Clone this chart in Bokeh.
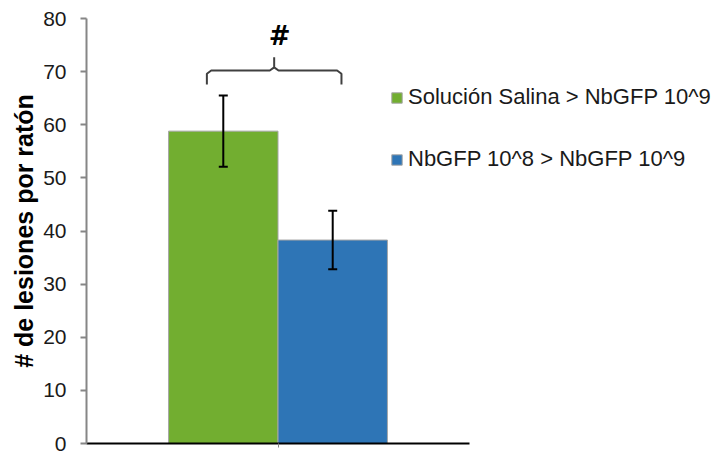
from bokeh.plotting import figure
from bokeh.models import (ColumnDataSource, Whisker, TeeHead, FixedTicker, Range1d,
                          Legend, LegendItem, Label)
from bokeh.embed import file_html
from bokeh.resources import INLINE

# ---- data ----
groups = ["Solución Salina > NbGFP 10^9", "NbGFP 10^8 > NbGFP 10^9"]
means = [58.8, 38.3]
errors = [6.7, 5.5]
positions = [1.25, 2.25]
colors = ["#72AE30", "#2E75B6"]
y_ticks = [0, 10, 20, 30, 40, 50, 60, 70, 80]
y_label = "# de lesiones por ratón"
sig_label = "#"
bracket_left = 1.10
bracket_right = 2.33
bracket_level = 70.2

FONT = "Liberation Sans"

# layout: x axis spans 0..3.5 (383 px); frame extended to the right for the legend
axis_end = 3.5
axis_px = 383
frame_w = 637
x_end = axis_end * frame_w / axis_px

p = figure(frame_width=frame_w, frame_height=425,
           x_range=Range1d(0, x_end), y_range=Range1d(0, 80),
           output_backend="svg", toolbar_location=None,
           min_border_left=86, min_border_right=2,
           min_border_top=18, min_border_bottom=10)
p.outline_line_color = None
p.xgrid.grid_line_color = None
p.ygrid.grid_line_color = None
p.background_fill_color = "white"
p.border_fill_color = "white"

# bars
items = []
for i in range(len(groups)):
    r = p.vbar(x=[positions[i]], top=[means[i]], width=1.0,
               fill_color=colors[i], line_color="#a6a6a6", line_width=1)
    items.append(LegendItem(label=groups[i], renderers=[r]))

# error bars
src = ColumnDataSource(data=dict(
    x=positions,
    upper=[m + e for m, e in zip(means, errors)],
    lower=[m - e for m, e in zip(means, errors)],
))
w = Whisker(base="x", upper="upper", lower="lower", source=src,
            line_color="black", line_width=2, level="overlay",
            upper_head=TeeHead(size=9, line_width=2, line_color="black"),
            lower_head=TeeHead(size=9, line_width=2, line_color="black"))
p.add_layout(w)

# significance bracket
mid = (bracket_left + bracket_right) / 2
drop = 2.6
rise = 2.5
c = 0.04
bx = [bracket_left, bracket_left, bracket_left + c, mid - c, mid, mid,
      mid, mid + c, bracket_right - c, bracket_right, bracket_right]
by = [bracket_level - drop, bracket_level - 0.6, bracket_level, bracket_level,
      bracket_level + 0.6, bracket_level + rise,
      bracket_level + 0.6, bracket_level, bracket_level, bracket_level - 0.6,
      bracket_level - drop]
p.line(bx, by, line_color="#404040", line_width=2)

p.add_layout(Label(x=mid + 0.05, y=bracket_level + rise + 1.2, text=sig_label,
                   text_font="DejaVu Sans", text_font_style="bold", text_font_size="26px",
                   text_align="center", text_baseline="bottom", text_color="black"))

# axes
p.yaxis.ticker = FixedTicker(ticks=y_ticks)
p.yaxis.axis_line_color = "#868686"
p.yaxis.axis_line_width = 2
p.yaxis.major_tick_line_color = "#868686"
p.yaxis.major_tick_line_width = 2
p.yaxis.major_tick_in = 0
p.yaxis.major_tick_out = 6
p.yaxis.minor_tick_line_color = None
p.yaxis.major_label_text_font = FONT
p.yaxis.major_label_text_font_size = "21px"
p.yaxis.major_label_text_color = "#1a1a1a"
p.yaxis.major_label_standoff = 14
p.yaxis.axis_label = y_label
p.yaxis.axis_label_text_font = FONT
p.yaxis.axis_label_text_font_size = "25px"
p.yaxis.axis_label_text_font_style = "bold"
p.yaxis.axis_label_text_color = "black"
p.yaxis.axis_label_standoff = 2

p.xaxis.bounds = (0, axis_end)
p.xaxis.ticker = FixedTicker(ticks=[], minor_ticks=[(positions[0] + positions[1]) / 2])
p.xaxis.axis_line_color = "black"
p.xaxis.axis_line_width = 2
p.xaxis.major_tick_line_color = None
p.xaxis.minor_tick_line_color = "#868686"
p.xaxis.minor_tick_in = 0
p.xaxis.minor_tick_out = 4

legend = Legend(items=items, location=(304, 271), orientation="vertical",
                glyph_width=13, glyph_height=13, label_standoff=5,
                label_height=24, spacing=36, padding=0, margin=0,
                border_line_color=None, background_fill_alpha=0,
                label_text_font=FONT, label_text_font_size="22px",
                label_text_color="#1a1a1a")
p.add_layout(legend, "center")

open("out.html", "w").write(file_html(p, INLINE))
